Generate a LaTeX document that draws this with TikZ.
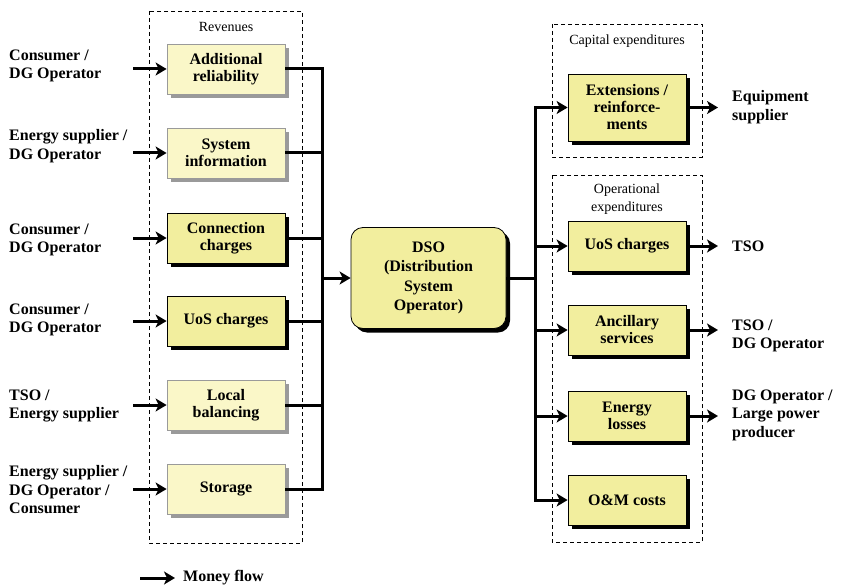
\documentclass[tikz,border=0pt]{standalone}
\usepackage{fontspec}
\setmainfont{Liberation Serif}
\usetikzlibrary{arrows.meta,shadows}
\definecolor{lightfill}{HTML}{FAF7C8}
\definecolor{darkfill}{HTML}{F2EE9E}
\definecolor{lightborder}{HTML}{9A9A9A}
\begin{document}
\begin{tikzpicture}[x=1pt,y=-1pt,
  txt/.style={font=\fontsize{16}{18.5}\selectfont\bfseries, align=left, inner sep=0pt},
  small/.style={font=\fontsize{14}{18}\selectfont, align=center, inner sep=0pt},
  boxbase/.style={rectangle, minimum width=118pt, minimum height=50pt, inner sep=1pt, align=center,
    font=\fontsize{16}{17}\selectfont\bfseries},
  lbox/.style={boxbase, fill=lightfill, draw=lightborder, line width=0.8pt,
    drop shadow={shadow xshift=4pt, shadow yshift=-4pt, fill=lightborder, opacity=1}},
  dbox/.style={boxbase, fill=darkfill, draw=black, line width=0.8pt,
    drop shadow={shadow xshift=4pt, shadow yshift=-4pt, fill=black, opacity=1}},
  conn/.style={line width=3pt, line join=miter},
  arr/.style={conn, -{Stealth[length=11pt, width=13pt, inset=3pt]}},
  grp/.style={draw=black, line width=0.8pt, dash pattern=on 4pt off 3pt}
]
\useasboundingbox (0,0) rectangle (842,588);

% group frames
\draw[grp] (149,11) rectangle (302,543);
\draw[grp] (552,24) rectangle (702,157);
\draw[grp] (552,175) rectangle (702,542);
\node[small] (trev) at (226,27) {Revenues};
\node[small] (tcap) at (627,41) {Capital expenditures};
\node[small] (topx) at (627,199) {Operational\\expenditures};

% revenue boxes
\node[lbox] (ar) at (226,69) {Additional\\reliability};
\node[lbox] (si) at (226,153) {System\\information};
\node[dbox] (cc) at (226,238) {Connection\\charges};
\node[dbox] (uosl) at (226,321) {UoS charges};
\node[lbox] (lb) at (226,405) {Local\\balancing};
\node[lbox] (st) at (226,489) {Storage};

% DSO
\node[dbox, rounded corners=12pt, minimum width=155pt, minimum height=101pt,
  font=\fontsize{16}{19.3}\selectfont\bfseries] (dso) at (428.5,278) {DSO\\(Distribution\\System\\Operator)};

% expenditure boxes
\node[dbox, minimum height=67pt] (ext) at (627,107.5) {Extensions /\\reinforce-\\ments};
\node[dbox] (uosr) at (627,246) {UoS charges};
\node[dbox] (anc) at (627,330) {Ancillary\\services};
\node[dbox] (el) at (627,416) {Energy\\losses};
\node[dbox] (om) at (627,500) {O\&M costs};

% left labels
\node[txt, anchor=west] (l1) at (9,66) {Consumer /\\DG Operator};
\node[txt, anchor=west] (l2) at (9,146) {Energy supplier /\\DG Operator};
\node[txt, anchor=west] (l3) at (9,240) {Consumer /\\DG Operator};
\node[txt, anchor=west] (l4) at (9,320) {Consumer /\\DG Operator};
\node[txt, anchor=west] (l5) at (9,406) {TSO /\\Energy supplier};
\node[txt, anchor=west] (l6) at (9,490) {Energy supplier /\\DG Operator /\\Consumer};

\coordinate (s1) at (133,69);
\coordinate (s2) at (133,153);
\coordinate (s3) at (133,238);
\coordinate (s4) at (133,321);
\coordinate (s5) at (133,405);
\coordinate (s6) at (133,489);
\draw[arr] (s1) -- (ar.west);
\draw[arr] (s2) -- (si.west);
\draw[arr] (s3) -- (cc.west);
\draw[arr] (s4) -- (uosl.west);
\draw[arr] (s5) -- (lb.west);
\draw[arr] (s6) -- (st.west);

% left bus
\coordinate (busL) at (322,278);
\draw[conn] (ar.east) -| (busL);
\draw[conn] (si.east) -| (busL);
\draw[conn] (cc.east) -| (busL);
\draw[conn] (uosl.east) -| (busL);
\draw[conn] (lb.east) -| (busL);
\draw[conn] (st.east) -| (busL);
\draw[arr] (busL) -- (dso.west);

% right bus
\coordinate (busR) at (535,278);
\draw[conn] (dso.east) -- (busR);
\draw[arr] (busR) |- (ext.west);
\draw[arr] (busR) |- (uosr.west);
\draw[arr] (busR) |- (anc.west);
\draw[arr] (busR) |- (el.west);
\draw[arr] (busR) |- (om.west);

% right labels
\node[txt, anchor=west] (r1) at (732,107) {Equipment\\supplier};
\node[txt, anchor=west] (r2) at (732,246) {TSO};
\node[txt, anchor=west] (r3) at (732,336) {TSO /\\DG Operator};
\node[txt, anchor=west] (r4) at (732,415) {DG Operator /\\Large power\\producer};
\coordinate (e1) at (718,107.5);
\coordinate (e2) at (718,246);
\coordinate (e3) at (718,330);
\coordinate (e4) at (718,416);
\draw[arr] (ext.east) -- (e1);
\draw[arr] (uosr.east) -- (e2);
\draw[arr] (anc.east) -- (e3);
\draw[arr] (el.east) -- (e4);

% legend
\coordinate (lg1) at (140,578);
\coordinate (lg2) at (175,578);
\draw[arr] (lg1) -- (lg2);
\node[txt, anchor=west] (lgt) at (183,578) {Money flow};
\end{tikzpicture}
\end{document}
